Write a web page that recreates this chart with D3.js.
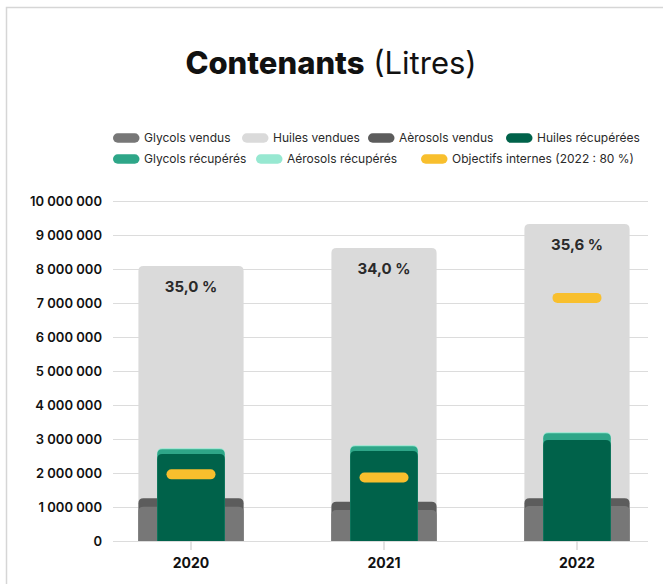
<!DOCTYPE html>
<html>
<head>
<meta charset="utf-8">
<script src="https://cdn.jsdelivr.net/npm/d3@7"></script>
<style>
  html, body { margin: 0; padding: 0; background: #fff; }
  svg { display: block; font-family: Inter, "Noto Sans", sans-serif; }
</style>
</head>
<body>
<svg id="chart" width="663" height="584"></svg>
<script>
// ---- Data ----
const years = ["2020", "2021", "2022"];
// heights of the overlaid bars (each bar drawn from zero)
const huilesVendues     = [8090000, 8620000, 9320000];
const aerosolsVendus    = [1256000, 1156000, 1256000];
const glycolsVendus     = [1010000,  910000, 1030000];
const aerosolsRecuperes = [2725000, 2815000, 3195000];
const glycolsRecuperes  = [2700000, 2790000, 3170000];
const huilesRecuperees  = [2560000, 2650000, 2970000];
const objectifs         = [1960000, 1870000, 7150000];
const tauxLabels        = ["35,0 %", "34,0 %", "35,6 %"];
const yTickValues = [0, 1000000, 2000000, 3000000, 4000000, 5000000, 6000000, 7000000, 8000000, 9000000, 10000000];

const legendNames = ["Glycols vendus", "Huiles vendues", "Aèrosols vendus", "Huiles récupérées",
                     "Glycols récupérés", "Aérosols récupérés", "Objectifs internes (2022 : 80 %)"];
const colors = {
  "Glycols vendus": "#777777",
  "Huiles vendues": "#dadada",
  "Aèrosols vendus": "#5c5c5c",
  "Huiles récupérées": "#00624a",
  "Glycols récupérés": "#2ea688",
  "Aérosols récupérés": "#97e8d1",
  "Objectifs internes (2022 : 80 %)": "#f8bf2d"
};

const svg = d3.select("#chart");

// frame
svg.append("path")
  .attr("d", "M6.5,584 L6.5,7.5 L663,7.5")
  .attr("fill", "none").attr("stroke", "#d6d6d6").attr("stroke-width", 1.5);

// title
const title = svg.append("text")
  .attr("x", 331).attr("y", 74).attr("text-anchor", "middle")
  .attr("font-size", 31).attr("fill", "#111");
title.append("tspan").attr("font-weight", 800).text("Contenants");
title.append("tspan").attr("font-weight", 400).text(" (Litres)");

// legend
const legendPos = [
  [113, 138], [242, 138], [368, 138], [506, 138],
  [113, 159], [256, 159], [421, 159]
];
const lg = svg.append("g");
legendNames.forEach((n, i) => {
  const [lx, ly] = legendPos[i];
  lg.append("rect").attr("x", lx).attr("y", ly - 4.75).attr("width", 26.5).attr("height", 9.5)
    .attr("rx", 4.75).attr("fill", colors[n]);
  lg.append("text").attr("x", lx + 31).attr("y", ly).attr("dy", "0.35em")
    .attr("font-size", 12).attr("fill", "#2a2a2a").text(n);
});

// scales
const x = d3.scaleBand().domain(years).range([94.5, 673.5]).paddingInner(0).paddingOuter(0);
const y = d3.scaleLinear().domain([0, 10000000]).range([541, 201]);
const fmt = d3.formatLocale({ decimal: ",", thousands: " ", grouping: [3], currency: ["", ""] }).format(",d");

// y axis with gridlines
const yAxis = svg.append("g").attr("transform", "translate(113,0)")
  .call(d3.axisLeft(y).tickValues(yTickValues).tickFormat(fmt).tickSizeInner(-535).tickSizeOuter(0).tickPadding(11));
yAxis.select(".domain").remove();
yAxis.selectAll(".tick line").attr("stroke", "#dcdcdc").attr("stroke-width", 1.2);
yAxis.selectAll(".tick text").attr("font-size", 13).attr("font-weight", 600).attr("fill", "#111")
  .attr("font-family", "Inter, sans-serif");

// x axis
const xAxis = svg.append("g").attr("transform", "translate(0,541)")
  .call(d3.axisBottom(x).tickSizeInner(9).tickSizeOuter(0).tickPadding(8));
xAxis.select(".domain").remove();
xAxis.selectAll(".tick line").attr("stroke", "#cfcfcf").attr("stroke-width", 1.2);
xAxis.selectAll(".tick text").attr("font-size", 14).attr("font-weight", 700).attr("fill", "#111")
  .attr("font-family", "Inter, sans-serif");

// rounded-top bar path
function topRounded(x0, w, yTop, yBase, r) {
  r = Math.min(r, w / 2, (yBase - yTop));
  return `M${x0},${yBase} L${x0},${yTop + r} Q${x0},${yTop} ${x0 + r},${yTop} ` +
         `L${x0 + w - r},${yTop} Q${x0 + w},${yTop} ${x0 + w},${yTop + r} L${x0 + w},${yBase} Z`;
}

const wideW = x.bandwidth() * 0.545;
const narrowW = x.bandwidth() * 0.35;
const pillW = x.bandwidth() * 0.254;

function drawBars(values, name, w, r) {
  svg.append("g").selectAll("path").data(values).join("path")
    .attr("d", (v, i) => {
      const cx = x(years[i]) + x.bandwidth() / 2;
      return topRounded(cx - w / 2, w, y(v), y(0), r);
    })
    .attr("fill", colors[name]);
}

drawBars(huilesVendues, "Huiles vendues", wideW, 5);
drawBars(aerosolsVendus, "Aèrosols vendus", wideW, 5);
drawBars(glycolsVendus, "Glycols vendus", wideW, 5);
drawBars(aerosolsRecuperes, "Aérosols récupérés", narrowW, 5);
drawBars(glycolsRecuperes, "Glycols récupérés", narrowW, 5);
drawBars(huilesRecuperees, "Huiles récupérées", narrowW, 5);

// objectives pills
svg.append("g").selectAll("rect").data(objectifs).join("rect")
  .attr("x", (v, i) => x(years[i]) + x.bandwidth() / 2 - pillW / 2)
  .attr("y", v => y(v) - 5)
  .attr("width", pillW).attr("height", 10).attr("rx", 5)
  .attr("fill", colors["Objectifs internes (2022 : 80 %)"]);

// percentage labels
svg.append("g").selectAll("text").data(tauxLabels).join("text")
  .attr("x", (d, i) => x(years[i]) + x.bandwidth() / 2)
  .attr("y", (d, i) => y(huilesVendues[i]) + 21)
  .attr("dy", "0.35em").attr("text-anchor", "middle")
  .attr("font-size", 15).attr("font-weight", 700).attr("fill", "#2a2a2a")
  .text(d => d);
</script>
</body>
</html>
